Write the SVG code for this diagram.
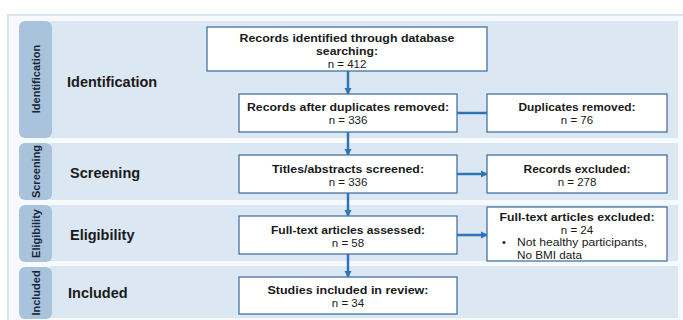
<svg xmlns="http://www.w3.org/2000/svg" width="683" height="320" viewBox="0 0 683 320">
<defs>
<style>
.band{fill:#dbe7f2}
.tab{fill:#a9c3dd}
.box{fill:#ffffff;stroke:#4674a0;stroke-width:1.3}
.t{font-family:"Liberation Sans",Arial,sans-serif;font-size:11px;fill:#1a1a1a;text-anchor:middle}
.n{font-size:11.5px}
.b{font-weight:bold}
.s{text-anchor:start}
.lbl{font-family:"Liberation Sans",Arial,sans-serif;font-size:14.5px;font-weight:bold;fill:#1a1a1a}
.tabt{font-family:"Liberation Sans",Arial,sans-serif;font-size:11px;font-weight:bold;fill:#1a2633;text-anchor:middle}
.con{stroke:#2e75b6;stroke-width:2.5;fill:none}
</style>
<marker id="ah" markerWidth="8" markerHeight="8" refX="6" refY="4" orient="auto" markerUnits="userSpaceOnUse">
<path d="M0,0.5 L7,4 L0,7.5 Z" fill="#2e75b6"/>
</marker>
</defs>
<rect x="0" y="0" width="683" height="320" fill="#ffffff"/>
<rect x="8" y="15" width="690" height="320" fill="#f7fafd" stroke="#d8e4ef" stroke-width="2"/>

<g id="stage-identification">
<rect class="band" x="50" y="21" width="628" height="117"/>
<rect class="tab" x="19" y="21" width="33" height="117" rx="6"/>
<text class="tabt" transform="translate(39.5,79) rotate(-90)">Identification</text>
<text class="lbl" x="67" y="87">Identification</text>
</g>
<g id="stage-screening">
<rect class="band" x="50" y="143" width="628" height="57"/>
<rect class="tab" x="19" y="143" width="33" height="57" rx="6"/>
<text class="tabt" transform="translate(39.5,171.5) rotate(-90)">Screening</text>
<text class="lbl" x="70" y="177.5">Screening</text>
</g>
<g id="stage-eligibility">
<rect class="band" x="50" y="205" width="628" height="56"/>
<rect class="tab" x="19" y="205" width="33" height="57" rx="6"/>
<text class="tabt" transform="translate(39.5,233.5) rotate(-90)">Eligibility</text>
<text class="lbl" x="70" y="240">Eligibility</text>
</g>
<g id="stage-included">
<rect class="band" x="50" y="266" width="628" height="52"/>
<rect class="tab" x="19" y="267" width="33" height="52" rx="6"/>
<text class="tabt" transform="translate(39.5,293) rotate(-90)">Included</text>
<text class="lbl" x="68" y="298">Included</text>
</g>

<g id="connectors">
<line class="con" x1="348" y1="71" x2="348" y2="94" marker-end="url(#ah)"/>
<line class="con" x1="348" y1="132" x2="348" y2="155" marker-end="url(#ah)"/>
<line class="con" x1="348" y1="193" x2="348" y2="216" marker-end="url(#ah)"/>
<line class="con" x1="348" y1="254" x2="348" y2="277" marker-end="url(#ah)"/>
<line class="con" x1="457" y1="113" x2="487" y2="113"/>
<line class="con" x1="457" y1="174" x2="487" y2="174" marker-end="url(#ah)"/>
<line class="con" x1="457" y1="235" x2="487" y2="235" marker-end="url(#ah)"/>
</g>

<g id="records-identified">
<rect class="box" x="207" y="27" width="280" height="44"/>
<text class="t b" x="347" y="42" textLength="215" lengthAdjust="spacingAndGlyphs">Records identified through database</text>
<text class="t b" x="347" y="55" textLength="62" lengthAdjust="spacingAndGlyphs">searching:</text>
<text class="t n" x="347" y="68">n = 412</text>
</g>
<g id="after-duplicates">
<rect class="box" x="239" y="94" width="218" height="38"/>
<text class="t b" x="348" y="111" textLength="202" lengthAdjust="spacingAndGlyphs">Records after duplicates removed:</text>
<text class="t n" x="348" y="124">n = 336</text>
</g>
<g id="duplicates-removed">
<rect class="box" x="487" y="94" width="180" height="38"/>
<text class="t b" x="577" y="111" textLength="117" lengthAdjust="spacingAndGlyphs">Duplicates removed:</text>
<text class="t n" x="577" y="124">n = 76</text>
</g>
<g id="titles-screened">
<rect class="box" x="239" y="155" width="218" height="38"/>
<text class="t b" x="348" y="172.5" textLength="152" lengthAdjust="spacingAndGlyphs">Titles/abstracts screened:</text>
<text class="t n" x="348" y="186">n = 336</text>
</g>
<g id="records-excluded">
<rect class="box" x="487" y="155" width="180" height="38"/>
<text class="t b" x="577" y="172.5" textLength="107" lengthAdjust="spacingAndGlyphs">Records excluded:</text>
<text class="t n" x="577" y="186">n = 278</text>
</g>
<g id="fulltext-assessed">
<rect class="box" x="239" y="216" width="218" height="38"/>
<text class="t b" x="348" y="233.5" textLength="154" lengthAdjust="spacingAndGlyphs">Full-text articles assessed:</text>
<text class="t n" x="348" y="246.5">n = 58</text>
</g>
<g id="fulltext-excluded">
<rect class="box" x="487" y="207" width="180" height="54"/>
<text class="t b" x="577" y="220.5" textLength="155" lengthAdjust="spacingAndGlyphs">Full-text articles excluded:</text>
<text class="t n" x="577" y="233.5">n = 24</text>
<text class="t s" x="502" y="246">•</text>
<text class="t s" x="517" y="246" textLength="130" lengthAdjust="spacingAndGlyphs">Not healthy participants,</text>
<text class="t s" x="517" y="258.5" textLength="65" lengthAdjust="spacingAndGlyphs">No BMI data</text>
</g>
<g id="studies-included">
<rect class="box" x="239" y="277" width="218" height="37"/>
<text class="t b" x="348" y="293.5" textLength="161" lengthAdjust="spacingAndGlyphs">Studies included in review:</text>
<text class="t n" x="348" y="307">n = 34</text>
</g>
</svg>
